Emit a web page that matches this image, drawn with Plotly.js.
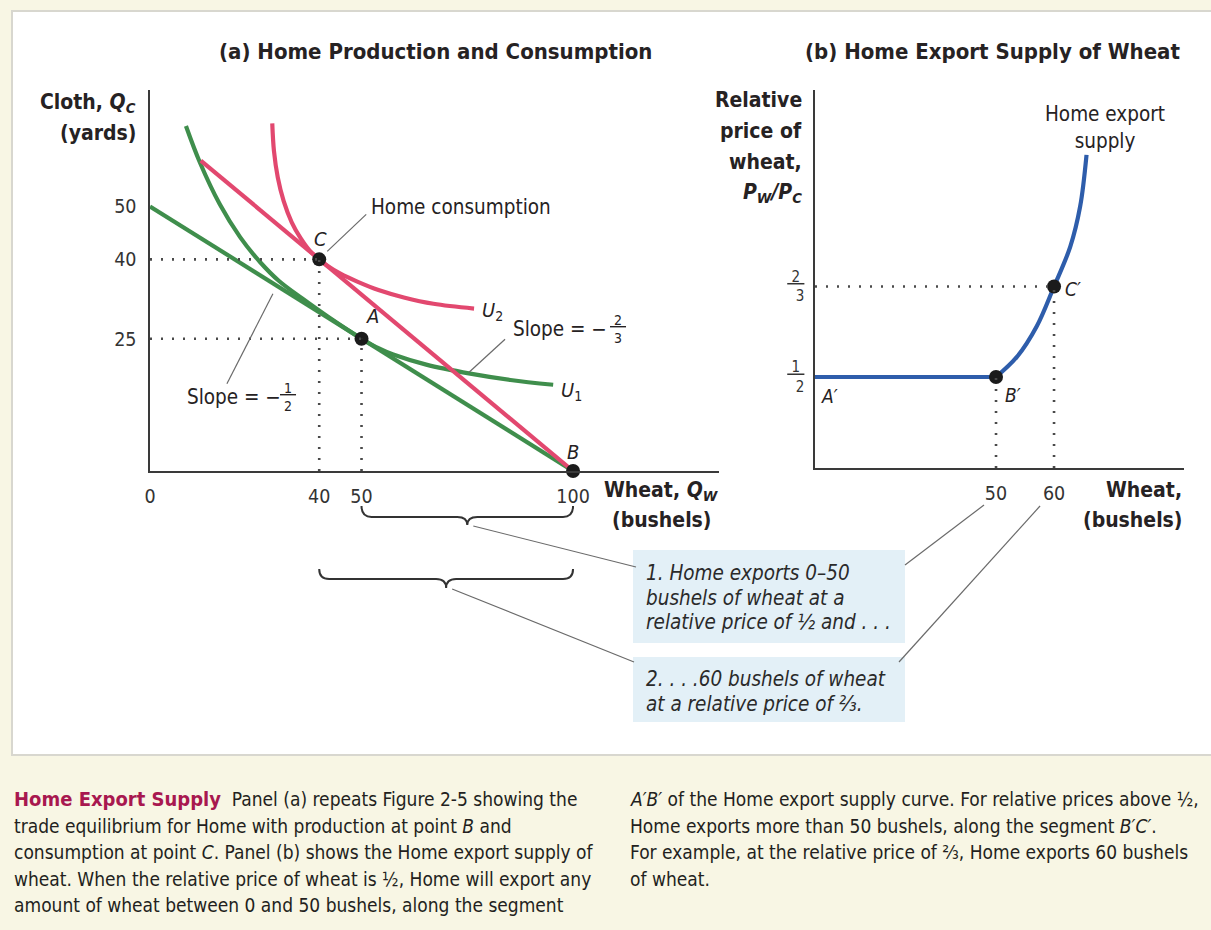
<!DOCTYPE html>
<html>
<head>
<meta charset="utf-8">
<script src="https://cdn.plot.ly/plotly-3.0.1.min.js"></script>
<style>
  html, body { margin: 0; padding: 0; background: #f8f6e4; }
  #chart { width: 1211px; height: 930px; }
</style>
</head>
<body>
<div id="chart"></div>
<script>
// ---------- Panel (a): Home production and consumption ----------
const wheatTicksA = [0, 40, 50, 100];
const clothTicksA = [25, 40, 50];

// Home production possibilities frontier (slope -1/2)
const ppfWheat = [0, 100];
const ppfCloth = [50, 0];

// World relative price line through B (slope -2/3)
const priceLineWheat = [12, 100];
const priceLineCloth = [58.67, 0];

// Indifference curve U1, tangent to the PPF at A
const u1Wheat = [8.5, 11.8, 16.5, 21.3, 26, 30.5, 36, 42, 50, 54, 57.5, 65.3, 75.7, 85.2, 95.3];
const u1Cloth = [65.2, 58.3, 50.4, 44.2, 39.5, 35.9, 32.6, 29.2, 25, 23.2, 22.0, 20.1, 18.4, 17.2, 16.3];

// Indifference curve U2, tangent to the price line at C
const u2Wheat = [28.9, 29.3, 30.2, 31.6, 33.5, 35.6, 37.8, 40, 42, 45, 49, 54, 60, 67, 76.6];
const u2Cloth = [65.7, 60.5, 55.5, 51.0, 47.0, 44.0, 41.6, 40, 38.75, 37.3, 35.8, 34.2, 32.8, 31.6, 30.7];

// Labelled points: A (autarky), B (production), C (consumption)
const pointNamesA = ['A', 'B', 'C'];
const pointWheatA = [50, 100, 40];
const pointClothA = [25, 0, 40];

// ---------- Panel (b): Home export supply of wheat ----------
const exportTicks = [50, 60];
const priceTicks = [1 / 2, 2 / 3];
const priceTickNum = ['1', '2'];
const priceTickDen = ['2', '3'];

const flatExports = [0, 50];
const flatPrice = [0.5, 0.5];
const risingExports = [50, 53.6, 57, 60, 62.8, 64.5, 65.6];
const risingPrice = [0.5, 0.537, 0.593, 2 / 3, 0.74, 0.814, 0.909];

const pointNamesB = ['B\u2032', 'C\u2032'];
const pointExportsB = [50, 60];
const pointPriceB = [0.5, 2 / 3];

// ---------- Page geometry ----------
const W = 1211, H = 930;
const FONT = "'DejaVu Sans Condensed', 'Liberation Sans Narrow', 'Noto Sans', sans-serif";
const INK = '#262223';
const GREEN = '#3f8e4c', PINK = '#e2486f', BLUE = '#2e5dab';

const geo = {
  x:  { p0: 150, p1: 719, r: [0, 134.5] },
  y:  { p0: 471, p1: 90,  r: [0, 72] },
  x2: { p0: 815, p1: 1184, r: [18.8, 82.4] },
  y2: { p0: 468, p1: 90,  r: [0.3324, 1.0285] }
};
const toPx = (ax, v) => { const g = geo[ax]; return g.p0 + (v - g.r[0]) / (g.r[1] - g.r[0]) * (g.p1 - g.p0); };
const PX = p => p / W;
const PY = p => 1 - p / H;

const frac = (n, d) => `<u>\u00a0${n}\u00a0</u><br>${d}`;

// ---------- Traces ----------
const curve = (x, y, color, xa, ya, shape) => ({
  x, y, xaxis: xa, yaxis: ya, mode: 'lines', hoverinfo: 'skip', showlegend: false,
  line: { color, width: 4.2, shape: shape || 'linear', smoothing: 1 }
});

const traces = [
  curve(u1Wheat, u1Cloth, GREEN, 'x', 'y', 'spline'),
  curve(ppfWheat, ppfCloth, GREEN, 'x', 'y'),
  curve(u2Wheat, u2Cloth, PINK, 'x', 'y', 'spline'),
  curve(priceLineWheat, priceLineCloth, PINK, 'x', 'y'),
  {
    x: pointWheatA, y: pointClothA, xaxis: 'x', yaxis: 'y', mode: 'markers', cliponaxis: false,
    marker: { color: '#1b1b1b', size: 14 }, hoverinfo: 'skip', showlegend: false
  },
  curve(flatExports, flatPrice, BLUE, 'x2', 'y2'),
  curve(risingExports, risingPrice, BLUE, 'x2', 'y2', 'spline'),
  {
    x: pointExportsB, y: pointPriceB, xaxis: 'x2', yaxis: 'y2', mode: 'markers', cliponaxis: false,
    marker: { color: '#1b1b1b', size: 14 }, hoverinfo: 'skip', showlegend: false
  }
];

// ---------- Shapes ----------
const shapes = [];
// white figure card on the cream page
shapes.push({ type: 'rect', xref: 'paper', yref: 'paper', x0: PX(12), x1: 1.01, y0: PY(755), y1: PY(11),
  fillcolor: '#ffffff', line: { color: '#d8d7cf', width: 2 }, layer: 'below' });
// callout boxes
[[550, 643], [657, 722]].forEach(([t, b]) => shapes.push({ type: 'rect', xref: 'paper', yref: 'paper',
  x0: PX(633), x1: PX(905), y0: PY(b), y1: PY(t), fillcolor: '#e3f0f7', line: { width: 0 }, layer: 'below' }));

// dotted guides
const dotted = { color: '#4a4a4a', width: 2.6, dash: '2px,9px' };
pointNamesA.forEach((n, i) => {
  if (n === 'B') return;
  shapes.push({ type: 'line', xref: 'x', yref: 'y', x0: 0, x1: pointWheatA[i], y0: pointClothA[i], y1: pointClothA[i], line: dotted });
  shapes.push({ type: 'line', xref: 'x', yref: 'y', x0: pointWheatA[i], x1: pointWheatA[i], y0: 0, y1: pointClothA[i], line: dotted });
});
shapes.push({ type: 'line', xref: 'x2', yref: 'y2', x0: geo.x2.r[0], x1: pointExportsB[1], y0: pointPriceB[1], y1: pointPriceB[1], line: dotted });
pointExportsB.forEach((v, i) => shapes.push({ type: 'line', xref: 'x2', yref: 'y2', x0: v, x1: v, y0: geo.y2.r[0], y1: pointPriceB[i], line: dotted }));

// leader lines (pixel endpoints converted to paper)
const leader = (x0, y0, x1, y1) => shapes.push({ type: 'line', xref: 'paper', yref: 'paper',
  x0: PX(x0), y0: PY(y0), x1: PX(x1), y1: PY(y1), line: { color: '#6a6a6a', width: 1.2 } });

// braces under the wheat axis of panel (a)
function brace(v0, v1, yTop, yBar, yTip) {
  const a = toPx('x', v0), b = toPx('x', v1), m = (a + b) / 2, d = 10;
  const X = p => PX(p).toFixed(5), Y = p => PY(p).toFixed(5);
  shapes.push({ type: 'path', xref: 'paper', yref: 'paper', line: { color: '#333', width: 2 },
    path: `M${X(a)},${Y(yTop)} Q${X(a)},${Y(yBar)} ${X(a + d)},${Y(yBar)} L${X(m - d)},${Y(yBar)} ` +
          `Q${X(m)},${Y(yBar)} ${X(m)},${Y(yTip)} Q${X(m)},${Y(yBar)} ${X(m + d)},${Y(yBar)} ` +
          `L${X(b - d)},${Y(yBar)} Q${X(b)},${Y(yBar)} ${X(b)},${Y(yTop)}` });
  return [m, yTip];
}
const tip1 = brace(pointWheatA[0], pointWheatA[1], 506, 517, 525);
const tip2 = brace(pointWheatA[2], pointWheatA[1], 569, 579, 588);
leader(tip1[0] + 6, tip1[1] + 1, 636, 567);
leader(tip2[0] + 6, tip2[1] + 1, 634, 662);
leader(905, 565, toPx('x2', exportTicks[0]) - 12, 505);
leader(899, 662, toPx('x2', exportTicks[1]) - 14, 506);

// leaders to curve labels in panel (a)
const cPx = [toPx('x', pointWheatA[2]), toPx('y', pointClothA[2])];
leader(cPx[0] + 8, cPx[1] - 8, cPx[0] + 47, cPx[1] - 45);
const slope23 = [toPx('x', 74), toPx('y', (100 - 74) * 2 / 3)];
leader(slope23[0] + 6, slope23[1] - 7, slope23[0] + 42, slope23[1] - 40);
const slope12 = [toPx('x', 30), toPx('y', 50 - 30 / 2)];
leader(slope12[0] - 4, slope12[1] + 8, slope12[0] - 50, slope12[1] + 98);

// ---------- Annotations ----------
const ann = [];
const font = (size, extra) => Object.assign({ family: FONT, size, color: INK }, extra || {});
function textAt(px, py, text, size, opts) {
  ann.push(Object.assign({ xref: 'paper', yref: 'paper', x: PX(px), y: PY(py), text, showarrow: false,
    xanchor: 'center', yanchor: 'middle', font: font(size) }, opts || {}));
}
function textNear(xa, ya, xv, yv, dx, dy, text, size, opts) {
  ann.push(Object.assign({ xref: xa, yref: ya, x: xv, y: yv, xshift: dx, yshift: -dy, text, showarrow: false,
    xanchor: 'center', yanchor: 'middle', font: font(size) }, opts || {}));
}

// panel titles
textAt(435, 52, '<b>(a) Home Production and Consumption</b>', 22);
textAt(992, 52, '<b>(b) Home Export Supply of Wheat</b>', 22);

// axis titles
textAt(138, 103, '<b>Cloth, <i>Q</i><sub><i>C</i></sub></b>', 21, { xanchor: 'right' });
textAt(138, 133, '<b>(yards)</b>', 21, { xanchor: 'right' });
textAt(661, 491, '<b>Wheat, <i>Q</i><sub><i>W</i></sub></b>', 21);
textAt(661, 520, '<b>(bushels)</b>', 21);
['Relative', 'price of', 'wheat,'].forEach((s, i) => textAt(804, 100 + 31 * i, `<b>${s}</b>`, 21, { xanchor: 'right' }));
textAt(804, 193, '<b><i>P</i><sub><i>W</i></sub><i>/P</i><sub><i>C</i></sub></b>', 21, { xanchor: 'right' });
textAt(1184, 490, '<b>Wheat,</b>', 21, { xanchor: 'right' });
textAt(1184, 520, '<b>(bushels)</b>', 21, { xanchor: 'right' });

// point labels, panel (a)
const ital = s => `<i>${s}</i>`;
textNear('x', 'y', pointWheatA[0], pointClothA[0], 11, -23, ital('A'), 20);
textNear('x', 'y', pointWheatA[1], pointClothA[1], 0, -19, ital('B'), 20);
textNear('x', 'y', pointWheatA[2], pointClothA[2], 1, -20, ital('C'), 20);
textNear('x', 'y', u2Wheat[u2Wheat.length - 1], u2Cloth[u2Cloth.length - 1], 6, 2, '<i>U</i><sub>2</sub>', 20, { xanchor: 'left' });
textNear('x', 'y', u1Wheat[u1Wheat.length - 1], u1Cloth[u1Cloth.length - 1], 6, 6, '<i>U</i><sub>1</sub>', 20, { xanchor: 'left' });

// curve labels, panel (a)
textNear('x', 'y', pointWheatA[2], pointClothA[2], 50, -52, 'Home consumption', 20.5, { xanchor: 'left' });
textNear('x', 'y', 74, (100 - 74) * 2 / 3, 48, -50, 'Slope = \u2212', 20.5, { xanchor: 'left' });
textNear('x', 'y', 74, (100 - 74) * 2 / 3, 155, -50, frac('2', '3'), 14);
textNear('x', 'y', 30, 50 - 30 / 2, -92, 111, 'Slope = \u2212', 20.5, { xanchor: 'left' });
textNear('x', 'y', 30, 50 - 30 / 2, 11, 111, frac('1', '2'), 14);

// point labels, panel (b)
textNear('x2', 'y2', geo.x2.r[0], flatPrice[0], 14, 19, ital('A\u2032'), 19);
textNear('x2', 'y2', pointExportsB[0], pointPriceB[0], 17, 18, ital(pointNamesB[0]), 19);
textNear('x2', 'y2', pointExportsB[1], pointPriceB[1], 19, 3, ital(pointNamesB[1]), 19);
textAt(1105, 127, 'Home export<br>supply', 20.5);

// callout text
const calloutFont = font(20.5, { color: '#2a2a2a' });
[['1. Home exports 0\u201350', 573], ['bushels of wheat at a', 598], ['relative price of \u00bd and . . .', 622],
 ['2. . . .60 bushels of wheat', 679], ['at a relative price of \u2154.', 704]]
  .forEach(([s, y]) => textAt(644, y, `<i>${s}</i>`, 20.5, { xanchor: 'left', font: calloutFont }));

// caption
const cap = font(19, { color: '#231f20' });
const leftLines = [
  '<span style="color:#a8184f;font-size:20px"><b>Home Export Supply</b></span>\u00a0 Panel (a) repeats Figure 2-5 showing the',
  'trade equilibrium for Home with production at point <i>B</i> and',
  'consumption at point <i>C</i>. Panel (b) shows the Home export supply of',
  'wheat. When the relative price of wheat is \u00bd, Home will export any',
  'amount of wheat between 0 and 50 bushels, along the segment'
];
const rightLines = [
  '<i>A\u2032B\u2032</i> of the Home export supply curve. For relative prices above \u00bd,',
  'Home exports more than 50 bushels, along the segment <i>B\u2032C\u2032</i>.',
  'For example, at the relative price of \u2154, Home exports 60 bushels',
  'of wheat.'
];
leftLines.forEach((s, i) => textAt(12, 799 + 26.5 * i, s, 19, { xanchor: 'left', font: cap }));
rightLines.forEach((s, i) => textAt(628, 799 + 26.5 * i, s, 19, { xanchor: 'left', font: cap }));

// ---------- Axes ----------
const axisBase = {
  showline: true, linecolor: '#3a3a3a', linewidth: 1.6, showgrid: false, zeroline: false,
  ticks: '', tickfont: { family: FONT, size: 19.5, color: '#333' }, tickmode: 'array', fixedrange: true
};
const dom = ax => [geo[ax].p0 / W, geo[ax].p1 / W];
const domY = ax => [1 - geo[ax].p0 / H, 1 - geo[ax].p1 / H];

const layout = {
  width: W, height: H, autosize: false,
  margin: { l: 0, r: 0, t: 0, b: 0 },
  paper_bgcolor: '#f8f6e4', plot_bgcolor: 'rgba(0,0,0,0)',
  showlegend: false,
  xaxis: Object.assign({}, axisBase, { domain: dom('x'), range: geo.x.r, anchor: 'y',
    tickvals: wheatTicksA, ticktext: wheatTicksA.map(String), ticklabelstandoff: 7 }),
  yaxis: Object.assign({}, axisBase, { domain: domY('y'), range: geo.y.r, anchor: 'x',
    tickvals: clothTicksA, ticktext: clothTicksA.map(String), ticklabelstandoff: 8 }),
  xaxis2: Object.assign({}, axisBase, { domain: dom('x2'), range: geo.x2.r, anchor: 'y2',
    tickvals: exportTicks, ticktext: exportTicks.map(String), ticklabelstandoff: 7 }),
  yaxis2: Object.assign({}, axisBase, { domain: domY('y2'), range: geo.y2.r, anchor: 'x2',
    tickvals: priceTicks, ticktext: priceTicks.map((v, i) => frac(priceTickNum[i], priceTickDen[i])),
    tickfont: { family: FONT, size: 15, color: '#333' }, ticklabelstandoff: 6 }),
  shapes, annotations: ann
};

Plotly.newPlot('chart', traces, layout, { staticPlot: true, displayModeBar: false });
</script>
</body>
</html>
